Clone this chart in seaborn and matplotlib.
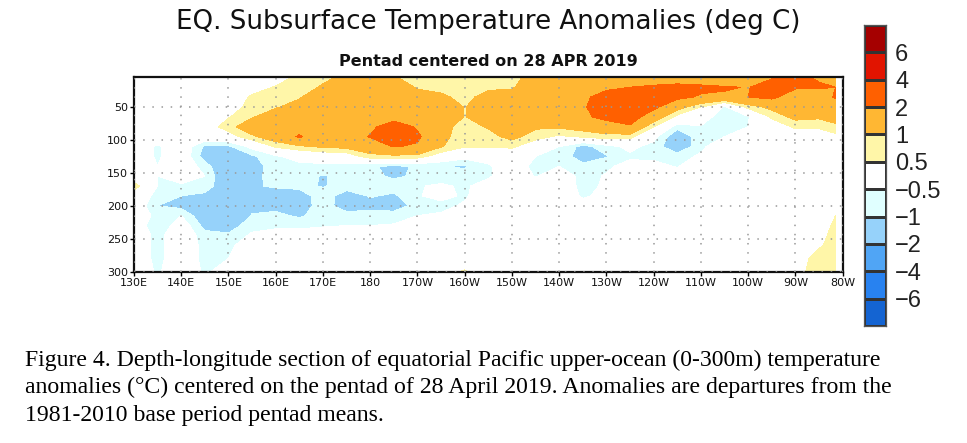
import numpy as np
import matplotlib
matplotlib.use("Agg")
import matplotlib.pyplot as plt
from matplotlib.colors import ListedColormap
import seaborn as sns

# depth levels (m) shared by every longitude column below
depths = [5, 20, 35, 50, 65, 80, 95, 110, 125, 140, 155, 170, 185, 200, 215, 230, 245, 260, 280, 300]
lons = [130, 135, 140, 145, 150, 155, 160, 165, 170, 175, 180, 185, 190, 195, 200, 205, 210, 215,
        220, 225, 230, 235, 240, 245, 250, 255, 260, 265, 270, 275, 278.5]

# temperature anomalies, one list per longitude, top to bottom
t130e = [0, 0, 0, 0, 0, 0, 0, 0, 0, 0, 0, 0.8, 0, 0, 0, 0, 0, 0, 0, 0]
t135e = [0, 0, 0, 0, 0, 0, 0, -0.6, -0.6, -0.5, -0.5, -0.5, -0.7, -1.0, -0.7, -1.0, -0.7, -0.7, -0.7, -0.6]
t140e = [0, 0, 0, 0, 0, 0, 0, 0, 0, 0, -0.2, -0.6, -1.0, -1.2, -0.5, -0.1, 0, 0, 0, 0]
t145e = [0, 0, 0, 0, 0, 0.1, 0, -1.1, -1.3, -0.75, -0.5, -0.6, -1.2, -1.5, -1.5, -1.2, -0.8, -0.7, -0.7, -0.6]
t150e = [0, 0, 0, 0.2, 0.45, 0.8, 0.2, -1.1, -1.6, -1.7, -1.7, -1.7, -1.7, -1.7, -1.7, -1.3, -0.9, -0.7, -0.5, -0.2]
t155e = [0, 0.2, 0.6, 0.7, 0.95, 1.4, 0.9, -0.3, -1.1, -1.3, -1.2, -1.05, -1.2, -1.2, -0.95, -0.7, -0.4, 0, 0, 0]
t160e = [0.1, 0.55, 0.8, 0.95, 1.3, 1.5, 1.4, 0.6, -0.6, -0.7, -0.75, -0.95, -1.2, -1.2, -0.85, -0.6, -0.3, 0, 0, 0]
t165e = [0.7, 0.8, 0.95, 1.2, 1.5, 1.6, 2.1, 0.9, -0.2, -0.7, -0.75, -0.85, -1.3, -1.3, -1.1, -0.6, -0.3, 0, 0, 0]
t170e = [0.9, 1.05, 1.4, 1.5, 1.5, 1.5, 1.4, 1.1, 0, -0.7, -1.05, -1.05, -0.7, -0.75, -0.7, -0.55, -0.2, 0, 0, 0]
t175e = [1.1, 1.3, 1.5, 1.5, 1.6, 1.6, 1.6, 1.2, 0.1, -0.7, -0.8, -0.75, -1.3, -1.3, -0.8, -0.5, -0.2, 0, 0, 0]
t180 = [1.2, 1.4, 1.5, 1.6, 1.7, 1.8, 2.05, 1.5, 0.8, -0.95, -0.85, -0.8, -0.95, -1.2, -0.75, -0.5, -0.2, 0, 0, 0]
t175w = [1.05, 1.3, 1.5, 1.6, 1.6, 2.5, 2.6, 2.05, 0.85, -1.1, -1.1, -0.75, -1.1, -1.3, -0.75, -0.45, 0, 0, 0, 0]
t170w = [0.75, 0.95, 1.2, 1.4, 1.6, 1.9, 2.15, 1.9, 0.8, -0.95, -0.9, -0.55, -0.55, -0.8, -0.5, -0.2, 0, 0, 0, 0]
t165w = [0.7, 0.85, 1.1, 1.4, 1.5, 1.2, 1.15, 1.05, 0.1, -0.98, -0.8, -0.4, -0.3, -0.7, -0.4, -0.1, 0, 0, 0, 0.3]
t160w = [0.6, 0.75, 0.85, 0.97, 0.97, 0.8, 0.75, 0.55, -0.3, -1.05, -0.85, -0.6, -0.6, -0.4, 0, 0, 0, 0, 0.2, 0.55]
t155w = [0.7, 0.9, 1.2, 1.4, 1.4, 1.05, 0.8, 0.55, -0.2, -0.6, -0.6, -0.2, 0, 0, 0, 0, 0, 0, 0, 0]
t150w = [0.85, 0.95, 1.2, 1.4, 1.5, 1.5, 1.2, 0.6, 0, 0, 0, 0, 0, 0, 0, 0, 0, 0, 0, 0]
t145w = [1.2, 1.3, 1.4, 1.5, 1.4, 1.1, 0.7, 0.1, -0.5, -0.75, -0.55, 0, 0, 0, 0, 0, 0, 0, 0, 0]
t140w = [1.3, 1.4, 1.4, 0.95, 1.4, 1.1, 0.4, -0.5, -0.65, -0.5, -0.1, 0, 0, 0, 0, 0, 0, 0, 0, 0]
t135w = [1.5, 1.6, 1.8, 1.9, 1.8, 1.3, 0.6, -1.2, -1.3, -0.85, -0.7, -0.7, -0.6, -0.2, 0, 0, 0, 0, 0, 0]
t130w = [1.5, 1.8, 2.4, 2.5, 2.3, 1.5, 0.8, -0.7, -1.05, -0.6, -0.45, -0.4, -0.3, 0, 0, 0, 0, 0, 0, 0]
t125w = [1.6, 2.0, 2.4, 2.5, 2.4, 1.9, 0.7, -0.35, -0.6, -0.3, 0, 0, 0, 0, 0, 0, 0, 0, 0, 0]
t120w = [1.6, 2.1, 2.5, 2.2, 1.5, 0.5, -0.3, -0.7, -0.65, -0.3, 0, 0, 0, 0, 0, 0, 0, 0, 0, 0]
t115w = [1.6, 2.2, 2.2, 1.3, 0.3, -0.8, -1.5, -1.5, -0.75, -0.55, -0.2, 0, 0, 0, 0, 0, 0, 0, 0, 0]
t110w = [1.3, 2.2, 1.9, 0.5, 0, -0.55, -0.7, -0.65, -0.4, 0, 0, 0, 0, 0, 0, 0, 0, 0, 0, 0]
t105w = [0.95, 2.1, 1.85, -0.6, -1.05, -0.7, -0.5, 0, 0, 0, 0, 0, 0, 0, 0, 0, 0, 0, 0, 0]
t100w = [0.95, 1.95, 2.0, 0.7, -0.55, -0.5, 0, 0, 0, 0, 0, 0, 0, 0, 0, 0, 0, 0, 0, 0]
t95w = [1.9, 2.5, 2.2, 1.2, 0.6, 0.1, 0, 0, 0, 0, 0, 0, 0, 0, 0, 0, 0, 0, 0, 0]
t90w = [2.2, 2.1, 1.5, 1.4, 1.2, 0.6, 0.1, 0, 0, 0, 0, 0, 0, 0, 0, 0, 0, 0, 0.1, 0.2]
t85w = [1.9, 2.1, 1.5, 1.4, 1.1, 0.6, 0.1, 0, 0, 0, 0, 0, 0, 0, 0, 0, 0.2, 0.4, 0.8, 0.9]
t82w = [1.6, 2.0, 2.1, 1.5, 1.2, 0.9, 0.3, 0, 0, 0, 0, 0, 0, 0, 0.5, 0.7, 0.8, 0.8, 0.9, 0.9]

columns = [t130e, t135e, t140e, t145e, t150e, t155e, t160e, t165e, t170e, t175e, t180, t175w, t170w,
           t165w, t160w, t155w, t150w, t145w, t140w, t135w, t130w, t125w, t120w, t115w, t110w, t105w,
           t100w, t95w, t90w, t85w, t82w]

levels = [-6, -4, -2, -1, -0.5, 0.5, 1, 2, 4, 6]
level_labels = ["6", "4", "2", "1", "0.5", "\u22120.5", "\u22121", "\u22122", "\u22124", "\u22126"]
shades = ["#1464d2", "#2882f0", "#50a5f5", "#96d2fa", "#e0ffff", "#ffffff",
          "#fff6a8", "#ffb733", "#ff6000", "#e11400", "#a50000"]
lon_ticks = list(range(130, 290, 10))
lon_labels = ["130E", "140E", "150E", "160E", "170E", "180", "170W", "160W", "150W", "140W",
              "130W", "120W", "110W", "100W", "90W", "80W"]
depth_ticks = [50, 100, 150, 200, 250, 300]

sns.set_style("white")
plt.rcParams["font.family"] = ["DejaVu Sans"]

fig = plt.figure(figsize=(9.67, 4.43), dpi=100)
ax = fig.add_axes([134 / 967, 1 - 271.7 / 443, 708.7 / 967, 194.4 / 443])

field = np.column_stack(columns)
ax.contourf(lons, depths, field, levels=[-20] + levels + [20], colors=shades)
ax.set_xlim(130, 280)
ax.set_ylim(300, 5)
ax.set_xticks(lon_ticks)
ax.set_xticklabels(lon_labels, fontsize=8)
ax.set_yticks(depth_ticks)
ax.set_yticklabels(depth_ticks, fontsize=8)
ax.tick_params(bottom=True, left=True, length=3, width=1, pad=1.5, color="black", labelcolor="#111111")
ax.grid(True, color="#999999", lw=1.1, ls=(0, (1, 5)))
ax.set_axisbelow(False)
for s in ax.spines.values():
    s.set_linewidth(1.6)
    s.set_color("#111111")
    s.set_visible(True)

# colour key is a one column heatmap, warm end on top
key_ax = fig.add_axes([864 / 967, 1 - 326 / 443, 22 / 967, 301 / 443])
key = np.arange(len(shades))[::-1].reshape(-1, 1)
sns.heatmap(key, ax=key_ax, cmap=ListedColormap(shades), cbar=False, linewidths=0.8,
            linecolor="#333333", xticklabels=False)
key_ax.yaxis.tick_right()
key_ax.set_yticks(np.arange(1, len(level_labels) + 1))
key_ax.set_yticklabels(level_labels, rotation=0, fontsize=17, family="Liberation Sans", color="#222222")
key_ax.tick_params(right=False, left=False, pad=3)
for s in key_ax.spines.values():
    s.set_visible(True)
    s.set_linewidth(0.9)
    s.set_color("#555555")

fig.text(488 / 967, 1 - 22 / 443, "EQ. Subsurface Temperature Anomalies (deg C)", ha="center", va="center",
         fontsize=18.8, color="#111111")
fig.text(488 / 967, 1 - 62 / 443, "Pentad centered on 28 APR 2019", ha="center", va="center",
         fontsize=11.5, fontweight="bold", color="#111111")

caption = ["Figure 4. Depth-longitude section of equatorial Pacific upper-ocean (0-300m) temperature",
           "anomalies (\u00b0C) centered on the pentad of 28 April 2019. Anomalies are departures from the",
           "1981-2010 base period pentad means."]
for line, y in zip(caption, [360, 387, 415]):
    fig.text(25 / 967, 1 - y / 443, line, ha="left", va="center", fontsize=17.1,
             family="Liberation Serif", color="black")

fig.savefig("out.png", dpi=100)
